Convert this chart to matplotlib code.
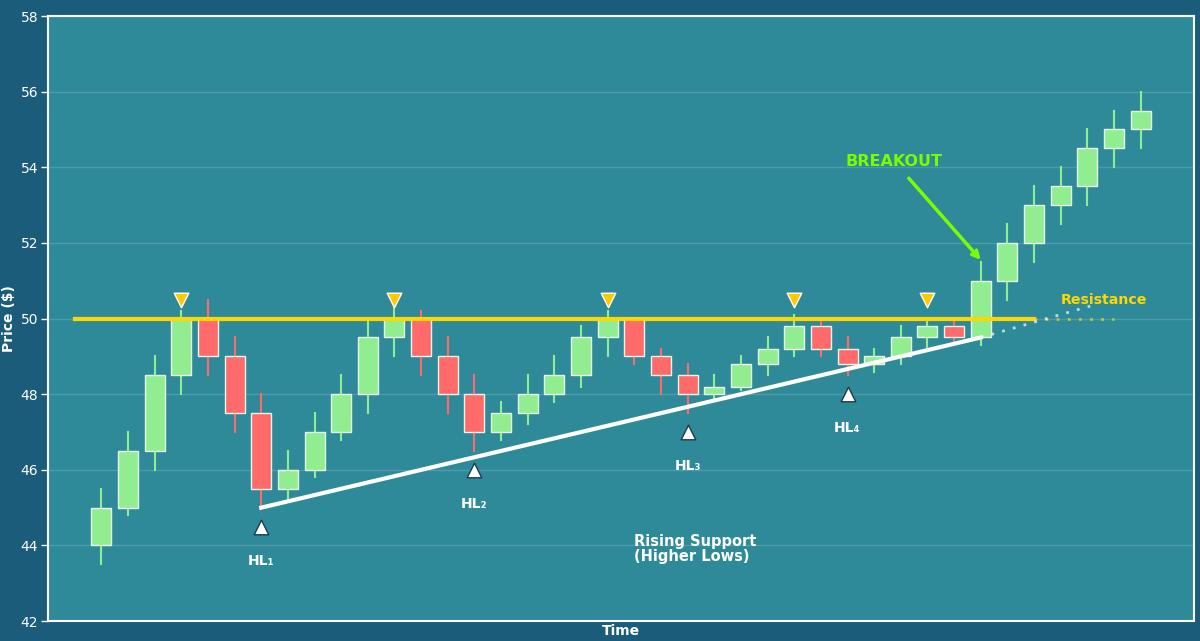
import matplotlib
matplotlib.use("Agg")
import matplotlib.pyplot as plt
from matplotlib.patches import Rectangle

# ---- data ----
opens  = [44, 45, 46.5, 48.5, 50, 49, 47.5, 45.5, 46, 47, 48, 49.5, 50, 49, 48, 47, 47.5, 48, 48.5, 49.5,
          50, 49, 48.5, 48, 48.2, 48.8, 49.2, 49.8, 49.2, 48.8, 49, 49.5, 49.8, 49.5, 51, 52, 53, 53.5, 54.5, 55]
closes = [45, 46.5, 48.5, 50, 49, 47.5, 45.5, 46, 47, 48, 49.5, 50, 49, 48, 47, 47.5, 48, 48.5, 49.5, 50,
          49, 48.5, 48, 48.2, 48.8, 49.2, 49.8, 49.2, 48.8, 49, 49.5, 49.8, 49.5, 51, 52, 53, 53.5, 54.5, 55, 55.5]
highs  = [45.5, 47, 49, 50.2, 50.5, 49.5, 48, 46.5, 47.5, 48.5, 50, 50.3, 50.2, 49.5, 48.5, 47.8, 48.5, 49, 49.8, 50.2,
          50, 49.2, 48.8, 48.5, 49, 49.5, 50.1, 50, 49.5, 49.2, 49.8, 50, 50, 51.5, 52.5, 53.5, 54, 55, 55.5, 56]
lows   = [43.5, 44.8, 46, 48, 48.5, 47, 45, 45.2, 45.8, 46.8, 47.5, 49, 48.5, 47.5, 46.5, 46.8, 47.2, 47.8, 48.2, 49,
          48.8, 48, 47.5, 47.9, 48.1, 48.5, 49, 49, 48.5, 48.6, 48.8, 49.2, 49.4, 49.3, 50.5, 51.5, 52.5, 53, 54, 54.5]

resistance_level = 50
resistance_x = [-1, 35]
resistance_ext_x = [35, 38]
support_x = [6, 33]
support_y = [45, 49.5]
support_ext_x = [33, 37.2]
support_ext_y = [49.5, 50.35]
touch_idx = [3, 11, 19, 26, 31]
hl_idx = [6, 14, 22, 28]
hl_names = ["HL\u2081", "HL\u2082", "HL\u2083", "HL\u2084"]
yticks = [42, 44, 46, 48, 50, 52, 54, 56, 58]

# ---- style ----
FIG_BG = "#1B5C7A"
AX_BG = "#2E8A99"
GREEN = "#90EE90"
RED = "#FF6B6B"
GOLD = "#FFD700"

fig = plt.figure(figsize=(12, 6.41), dpi=100, facecolor=FIG_BG)
ax = fig.add_axes([0.040, 0.031, 0.955, 0.944], facecolor=AX_BG)

ax.set_xlim(-2, 41)
ax.set_ylim(42, 58)
ax.set_yticks(yticks)
ax.set_xticks([])
ax.grid(axis="y", color="white", alpha=0.15, linewidth=1)
ax.set_axisbelow(True)
for s in ax.spines.values():
    s.set_color("white")
    s.set_linewidth(1.5)
ax.tick_params(axis="y", colors="white", labelsize=10, length=5, width=1, pad=2)
ax.set_ylabel("Price ($)", color="white", fontsize=10, fontweight="bold", labelpad=3)
ax.set_xlabel("Time", color="white", fontsize=10, fontweight="bold", labelpad=2)

w = 0.75
for i, (o, c, h, l) in enumerate(zip(opens, closes, highs, lows)):
    col = GREEN if c >= o else RED
    ax.plot([i, i], [l, h], color=col, linewidth=1.5, zorder=2)
    ax.add_patch(Rectangle((i - w / 2, min(o, c)), w, abs(c - o), facecolor=col,
                           edgecolor="#E8F5E8", linewidth=1, zorder=3))

# resistance
ax.plot(resistance_x, [resistance_level] * 2, color=GOLD, linewidth=3, zorder=4)
ax.plot(resistance_ext_x, [resistance_level] * 2, color=GOLD, linewidth=2, linestyle=(0, (1, 3)), alpha=0.7, zorder=4)
# support
ax.plot(support_x, support_y, color="white", linewidth=3, zorder=4)
ax.plot(support_ext_x, support_ext_y, color="white", linewidth=2, linestyle=(0, (1, 3)), alpha=0.7, zorder=4)

# resistance touches
ax.scatter(touch_idx, [resistance_level + 0.5] * len(touch_idx), marker="v", s=110,
           color="#FFC800", edgecolor="white", linewidth=1, zorder=5)

# higher lows
for i, name in zip(hl_idx, hl_names):
    ax.scatter([i], [lows[i] - 0.5], marker="^", s=110, color="white", edgecolor="#1B3A4B",
               linewidth=1, zorder=5)
    ax.text(i, lows[i] - 1.4, name, color="white", fontsize=10, fontweight="bold",
            ha="center", va="center", zorder=6)

ax.annotate("BREAKOUT", xy=(33, 51.55), xytext=(29.75, 54.15), color="#7CFC00", fontsize=11.5,
            fontweight="bold", ha="center", va="center",
            arrowprops=dict(arrowstyle="->", color="#7CFC00", lw=2.5, shrinkA=6, shrinkB=0), zorder=6)
ax.text(36, 50.5, "Resistance", color=GOLD, fontsize=10.2, fontweight="bold", ha="left", va="center", zorder=6)
ax.text(20, 43.9, "Rising Support\n(Higher Lows)", color="white", fontsize=10.5, fontweight="bold",
        ha="left", va="center", linespacing=1.0, zorder=6)

fig.savefig("out.png", dpi=100, facecolor=FIG_BG)
